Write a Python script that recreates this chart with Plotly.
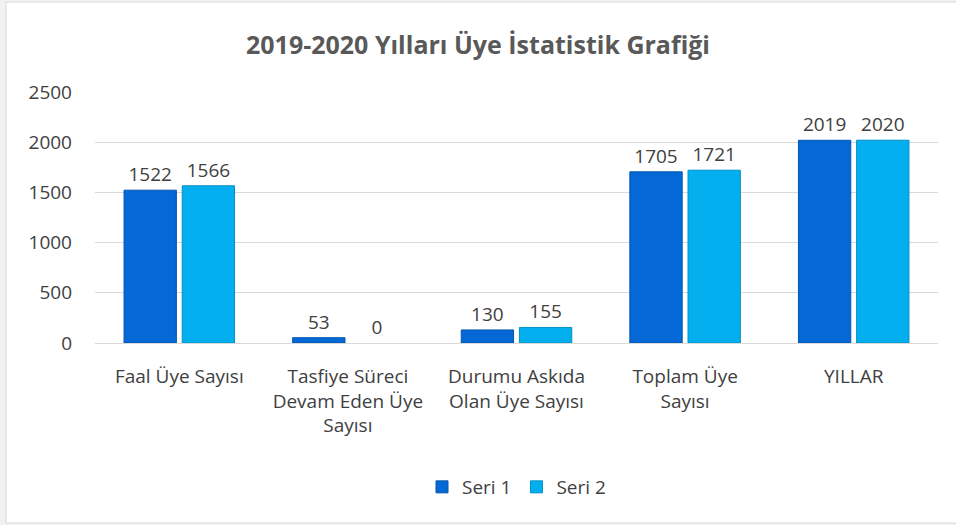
import plotly.graph_objects as go

categories = ["Faal Üye Sayısı", "Tasfiye Süreci<br>Devam Eden Üye<br>Sayısı",
              "Durumu Askıda<br>Olan Üye Sayısı", "Toplam Üye<br>Sayısı", "YILLAR"]
seri1 = [1522, 53, 130, 1705, 2019]
seri2 = [1566, 0, 155, 1721, 2020]
y_ticks = [0, 500, 1000, 1500, 2000, 2500]

W, H = 956, 525
ml, mr, mt, mb = 95, 18, 92, 182
FONT = "Open Sans"

fig = go.Figure()
fig.add_trace(go.Bar(
    x=categories, y=seri1, name="Seri 1",
    marker=dict(color="#0468D6", line=dict(color="#0356ad", width=[1 if v else 0 for v in seri1])),
    text=[str(v) for v in seri1], textposition="outside",
    textfont=dict(size=19, color="#404040", family=FONT),
    cliponaxis=False,
))
fig.add_trace(go.Bar(
    x=categories, y=seri2, name="Seri 2",
    marker=dict(color="#04AFEF", line=dict(color="#0390c4", width=[1 if v else 0 for v in seri2])),
    text=[str(v) for v in seri2], textposition="outside",
    textfont=dict(size=19, color="#404040", family=FONT),
    cliponaxis=False,
))

pw = W - ml - mr
ph = H - mt - mb
fig.add_shape(type="rect", xref="paper", yref="paper",
              x0=(6 - ml) / pw, x1=(962 - ml) / pw,
              y0=(H - mb - 523) / ph, y1=(H - mb - 2) / ph,
              line=dict(color="#d9d9d9", width=1), fillcolor="white", layer="below")

fig.update_layout(
    width=W, height=H,
    margin=dict(l=ml, r=mr, t=mt, b=mb),
    paper_bgcolor="#f2f2f2", plot_bgcolor="white",
    title=dict(text="<b>2019-2020 Yılları Üye İstatistik Grafiği</b>",
               x=0.5, xanchor="center", y=1 - 45 / H, yanchor="middle",
               font=dict(size=25, color="#595959", family=FONT)),
    barmode="group", bargap=0.31, bargroupgap=0.1,
    font=dict(family=FONT, color="#404040", size=19),
    xaxis=dict(tickfont=dict(size=19, color="#404040"), showline=False,
               ticks="", showgrid=False, ticklabelstandoff=20),
    yaxis=dict(range=[0, 2500], tickvals=y_ticks, showgrid=True, gridcolor="#d9d9d9",
               gridwidth=1, zeroline=True, zerolinecolor="#d9d9d9", zerolinewidth=1,
               tickfont=dict(size=19, color="#404040"), ticks="", ticklabelstandoff=22),
    legend=dict(orientation="h", x=0.5, xanchor="center", y=-(487 - (H - mb)) / ph,
                yanchor="middle", font=dict(size=19, color="#404040"),
                bgcolor="white", itemwidth=30, tracegroupgap=0),
)
fig.write_html("out.html", config={"displayModeBar": False},
               post_script="document.body.style.margin='0';")
